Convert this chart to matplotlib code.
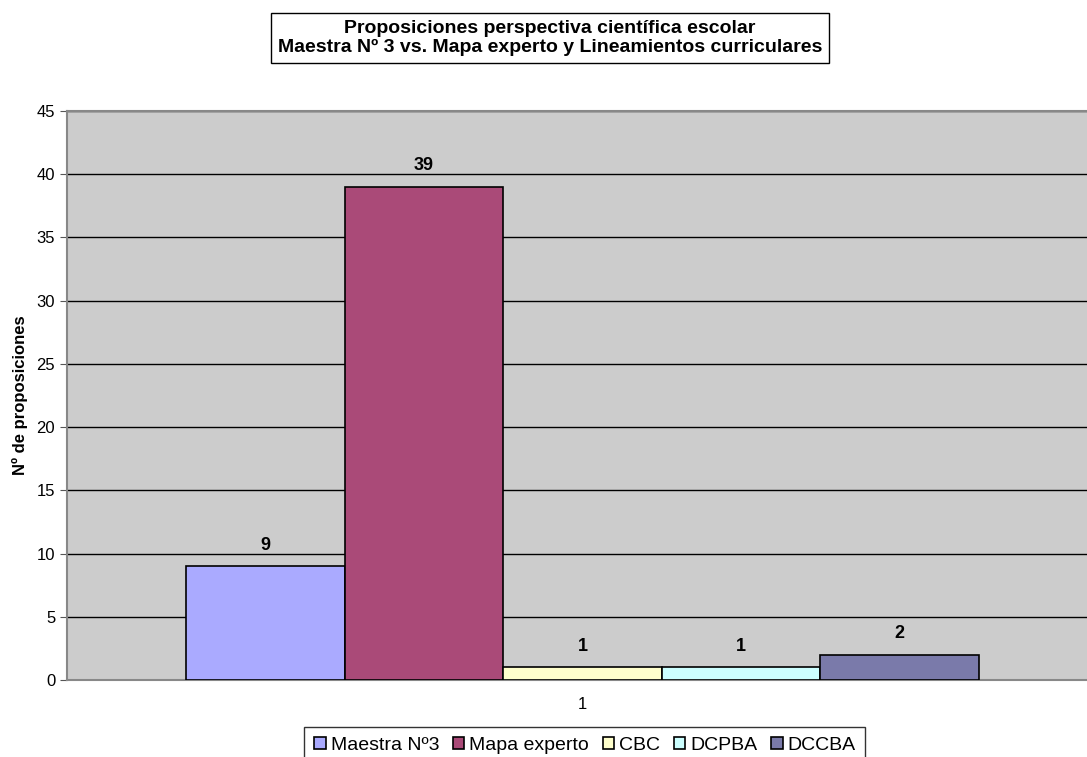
import matplotlib.pyplot as plt
from matplotlib.patches import Patch

plt.rcParams['font.family'] = ['Liberation Sans', 'DejaVu Sans']

series = ["Maestra Nº3", "Mapa experto", "CBC", "DCPBA", "DCCBA"]
values = [9, 39, 1, 1, 2]
colors = ["#AAAAFF", "#AA4A78", "#FFFFCC", "#CCFFFF", "#7A7AAA"]
category = "1"

fig = plt.figure(figsize=(10.87, 7.57), dpi=100)
ax = fig.add_axes([0.0616, 0.1017, 0.9384, 0.7517])
ax.set_facecolor("#CCCCCC")

width = 0.1555
center = 1.0
for i, (name, v, c) in enumerate(zip(series, values, colors)):
    x = center + (i - 2) * width
    ax.bar(x, v, width=width, color=c, edgecolor="black", linewidth=1.2,
           label=name, zorder=3)
    ax.annotate(str(v), (x, v), xytext=(0, 9), textcoords="offset points",
                ha="center", va="bottom", fontsize=13, fontweight="bold")

ax.set_xlim(0.4946, 1.4946)
ax.set_ylim(0, 45)
ax.set_yticks(range(0, 46, 5))
ax.set_xticks([center])
ax.set_xticklabels([category])
ax.tick_params(axis="y", labelsize=12, length=5, color="#555555")
ax.tick_params(axis="x", labelsize=12, length=0, pad=12)
ax.yaxis.grid(True, color="black", linewidth=1)
ax.set_axisbelow(True)

for s in ["left", "bottom", "top"]:
    ax.spines[s].set_color("#888888")
    ax.spines[s].set_linewidth(1.5)
ax.spines["right"].set_visible(False)

ax.set_ylabel("Nº de proposiciones", fontsize=12, fontweight="bold")
ax.yaxis.set_label_coords(-0.0382, 0.5)

fig.text(0.506, 0.9498,
         "Proposiciones perspectiva científica escolar\n"
         "Maestra Nº 3 vs. Mapa experto y Lineamientos curriculares",
         ha="center", va="center", fontsize=14, fontweight="bold",
         linespacing=1.2,
         bbox=dict(boxstyle="square,pad=0.35", facecolor="white",
                   edgecolor="black", linewidth=1))

handles = [Patch(facecolor=c, edgecolor="black", linewidth=1.2) for c in colors]
leg = fig.legend(handles, series, loc="upper center", bbox_to_anchor=(0.538, 0.0396),
                 ncol=5, fontsize=14, frameon=True, fancybox=False,
                 handlelength=0.6, handleheight=0.6, handletextpad=0.25,
                 columnspacing=0.7, borderpad=0.5, borderaxespad=0)
leg.get_frame().set_edgecolor("black")
leg.get_frame().set_linewidth(1)

fig.savefig("out.png", dpi=100)
